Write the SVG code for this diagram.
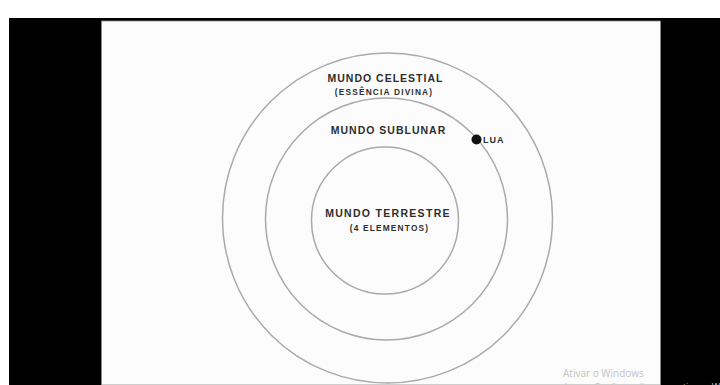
<svg xmlns="http://www.w3.org/2000/svg" width="720" height="385" viewBox="0 0 720 385">
  <style>
    .ring { fill: none; stroke: #aaaaaa; stroke-width: 1.5; }
    .t1 { font-family: "Liberation Sans", "DejaVu Sans", sans-serif; font-weight: bold; fill: #2e2e2e; text-anchor: middle; }
    .big { font-size: 10.5px; letter-spacing: 1px; }
    .small { font-size: 8.3px; letter-spacing: 1.2px; }
    .wm { font-family: "Open Sans", "Liberation Sans", sans-serif; fill: #c4c4c4; }
  </style>
  <rect x="0" y="0" width="720" height="385" fill="#ffffff"/>
  <rect x="9" y="18" width="711" height="367" fill="#000000"/>
  <rect x="101.5" y="21" width="559" height="364" fill="#fcfcfc" stroke="#8a8a8a" stroke-width="0.8"/>

  <g id="connectors"></g>

  <g id="mundo-celestial">
    <circle class="ring" cx="387.5" cy="218" r="165"/>
    <text class="t1 big" x="385.5" y="82">MUNDO CELESTIAL</text>
    <text class="t1 small" x="384" y="94.5">(ESSÊNCIA DIVINA)</text>
  </g>

  <g id="mundo-sublunar">
    <circle class="ring" cx="386.5" cy="219" r="121"/>
    <text class="t1 big" x="388.5" y="134">MUNDO SUBLUNAR</text>
  </g>

  <g id="lua">
    <circle cx="476.5" cy="139.5" r="5" fill="#111111"/>
    <text class="t1" x="483" y="143" font-size="9" letter-spacing="1" style="text-anchor:start">LUA</text>
  </g>

  <g id="mundo-terrestre">
    <circle class="ring" cx="385" cy="220.5" r="73.5"/>
    <text class="t1 big" x="388" y="217.3" style="letter-spacing:1.3px">MUNDO TERRESTRE</text>
    <text class="t1 small" x="389.5" y="230.8">(4 ELEMENTOS)</text>
  </g>

  <g id="watermark">
    <text class="wm" x="563" y="377" font-size="10">Ativar o Windows</text>
    <text class="wm" x="563" y="390" font-size="9">Acesse Configurações para ativar o Windows.</text>
  </g>
</svg>
